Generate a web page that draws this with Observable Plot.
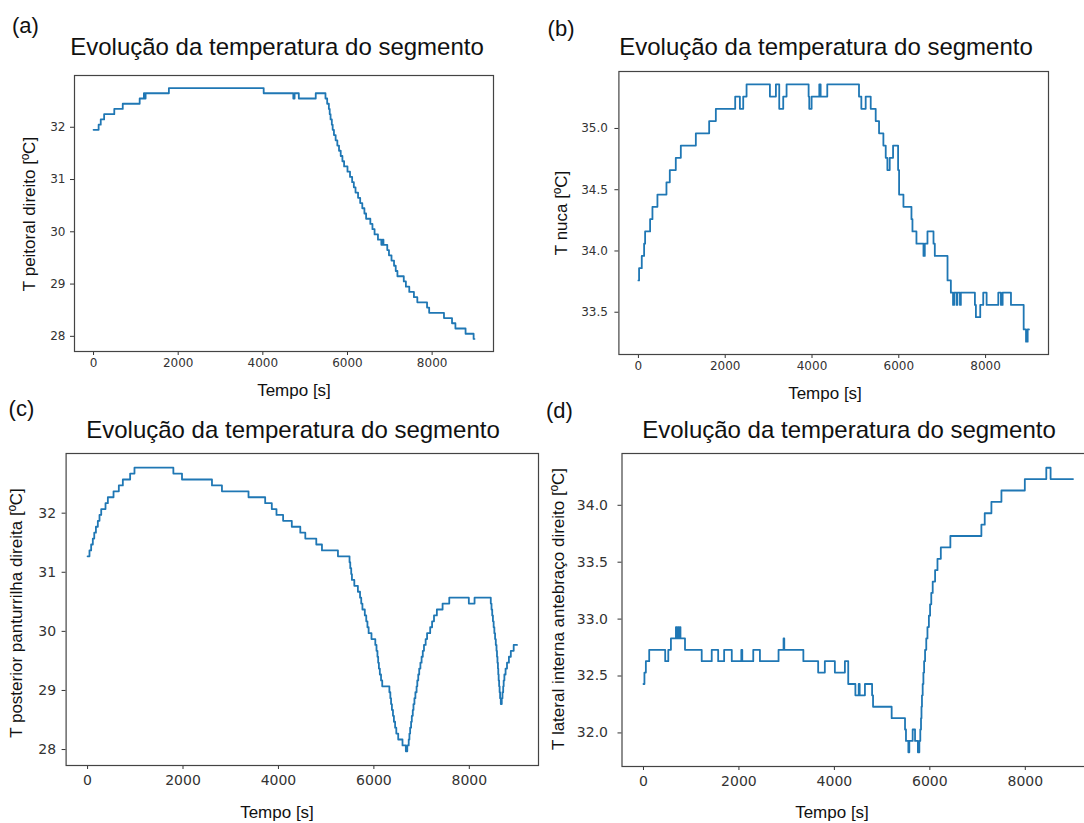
<!DOCTYPE html>
<html><head><meta charset="utf-8">
<script src="https://cdn.jsdelivr.net/npm/d3@7"></script>
<script src="https://cdn.jsdelivr.net/npm/@observablehq/plot@0.6"></script>
<style>
html,body{margin:0;padding:0;background:#fff;}
body{width:1084px;height:823px;overflow:hidden;position:relative;font-family:"Liberation Sans",Arial,sans-serif;color:#111;}
.abs{position:absolute;white-space:nowrap;line-height:1;}
.tag{font-size:22px;}
.title{font-size:24px;transform:translateX(-50%);}
.xl{font-size:17px;transform:translateX(-50%);}
.yl{font-size:17px;transform:translate(-50%,-50%) rotate(-90deg);}
</style></head><body>
<script>
// ---------------- DATA ----------------
const titleText = "Evolução da temperatura do segmento";
const panelTags = ["(a)", "(b)", "(c)", "(d)"];
const xLabel = "Tempo [s]";
const yLabels = ["T peitoral direito [ºC]", "T nuca [ºC]", "T posterior panturrilha direita [ºC]", "T lateral interna antebraço direito [ºC]"];
const xTicks = [0, 2000, 4000, 6000, 8000];
const yTicksA = [28, 29, 30, 31, 32];
const yTicksB = [33.5, 34.0, 34.5, 35.0];
const yTicksC = [28, 29, 30, 31, 32];
const yTicksD = [32.0, 32.5, 33.0, 33.5, 34.0];

// (a) peitoral direito
const tempoA = [0,120,170,250,490,690,1090,1190,1210,1230,1780,4020,4720,4750,4850,5250,5480,5520,5560,5580,5600,5630,5650,5680,5720,5760,5800,5840,5880,5920,6000,6060,6110,6150,6190,6250,6300,6350,6400,6440,6540,6590,6640,6720,6800,6830,6850,6940,6980,7040,7100,7140,7180,7330,7380,7460,7570,7650,7880,7930,8280,8470,8550,8790,8980,9000];
const tempA  = [31.95,32.05,32.15,32.25,32.35,32.45,32.55,32.65,32.55,32.65,32.75,32.65,32.55,32.65,32.55,32.65,32.55,32.45,32.35,32.25,32.15,32.05,31.95,31.85,31.75,31.65,31.55,31.45,31.35,31.25,31.15,31.05,30.95,30.85,30.75,30.65,30.55,30.45,30.35,30.25,30.15,30.05,29.95,29.85,29.75,29.85,29.75,29.65,29.55,29.45,29.35,29.25,29.15,29.05,28.95,28.85,28.75,28.65,28.55,28.45,28.35,28.25,28.15,28.05,27.95,27.95];

// (b) nuca
const tempoB = [0,15,77,131,154,269,323,438,646,723,861,977,1323,1630,1784,2230,2338,2415,2492,3030,3168,3245,3337,3414,3922,3937,3991,4168,4199,4352,5083,5137,5237,5353,5468,5545,5645,5699,5737,5791,5868,5984,6007,6107,6292,6315,6407,6569,6599,6661,6800,6830,7123,7200,7250,7275,7330,7350,7410,7430,7754,7777,7877,7946,8024,8293,8354,8393,8585,8878,8932,8970,9000];
const tempB  = [33.76,33.86,33.96,34.06,34.16,34.26,34.36,34.46,34.56,34.66,34.76,34.86,34.96,35.06,35.16,35.26,35.16,35.26,35.36,35.26,35.36,35.16,35.26,35.36,35.26,35.16,35.26,35.36,35.26,35.36,35.26,35.16,35.26,35.16,35.06,34.96,34.86,34.76,34.66,34.76,34.86,34.66,34.46,34.36,34.26,34.16,34.06,33.96,34.06,34.16,34.06,33.96,33.76,33.66,33.56,33.66,33.56,33.66,33.56,33.66,33.56,33.46,33.56,33.66,33.56,33.66,33.56,33.66,33.56,33.36,33.26,33.36,33.36];

// (c) posterior panturrilha direita
const tempoC = [0,40,75,110,140,175,215,250,286,376,425,544,655,739,892,983,1798,1979,2607,2816,3373,3722,3861,3959,4098,4280,4458,4563,4793,4912,5247,5490,5505,5525,5540,5590,5665,5710,5735,5760,5810,5840,5865,5890,5950,6030,6055,6075,6090,6105,6125,6150,6175,6325,6345,6360,6378,6400,6420,6445,6470,6510,6600,6670,6700,6730,6745,6760,6780,6795,6815,6830,6850,6870,6895,6910,6930,6950,6975,7000,7025,7050,7085,7115,7180,7220,7260,7320,7440,7580,7990,8110,8450,8465,8480,8495,8510,8525,8540,8555,8570,8580,8590,8600,8607,8615,8625,8635,8645,8660,8680,8695,8710,8720,8735,8760,8790,8830,8870,8930,9000];
const tempC  = [31.27,31.37,31.47,31.57,31.67,31.77,31.87,31.97,32.07,32.17,32.27,32.37,32.47,32.57,32.67,32.77,32.67,32.57,32.47,32.37,32.27,32.17,32.07,31.97,31.87,31.77,31.67,31.57,31.47,31.37,31.27,31.17,31.07,30.97,30.87,30.77,30.67,30.57,30.47,30.37,30.27,30.17,30.07,29.97,29.87,29.77,29.67,29.57,29.47,29.37,29.27,29.17,29.07,28.97,28.87,28.77,28.67,28.57,28.47,28.37,28.27,28.17,28.07,27.97,28.07,28.17,28.27,28.37,28.47,28.57,28.67,28.77,28.87,28.97,29.07,29.17,29.27,29.37,29.47,29.57,29.67,29.77,29.87,29.97,30.07,30.17,30.27,30.37,30.47,30.57,30.47,30.57,30.47,30.37,30.27,30.17,30.07,29.97,29.87,29.77,29.67,29.57,29.47,29.37,29.27,29.17,29.07,28.97,28.87,28.77,28.87,28.97,29.07,29.17,29.27,29.37,29.47,29.57,29.67,29.77,29.77];

// (d) lateral interna antebraço direito
const tempoD = [0,20,50,120,455,520,575,680,700,720,740,760,775,870,1220,1430,1565,1690,1850,2050,2070,2300,2440,2830,2935,2950,3350,3660,3800,4010,4220,4290,4440,4510,4530,4640,4790,4810,5200,5480,5500,5550,5570,5640,5690,5750,5780,5800,5815,5825,5835,5850,5865,5880,5900,5925,5950,5980,6005,6030,6060,6110,6160,6230,6430,7080,7150,7290,7500,7990,8440,8530,9000];
const tempD  = [32.43,32.53,32.63,32.73,32.63,32.73,32.83,32.93,32.83,32.93,32.83,32.93,32.83,32.73,32.63,32.73,32.63,32.73,32.63,32.73,32.63,32.73,32.63,32.73,32.83,32.73,32.63,32.53,32.63,32.53,32.63,32.43,32.33,32.43,32.33,32.43,32.33,32.23,32.13,32.03,31.93,31.83,31.93,32.03,31.93,31.83,31.93,32.03,32.13,32.23,32.33,32.43,32.53,32.63,32.73,32.83,32.93,33.03,33.13,33.23,33.33,33.43,33.53,33.63,33.73,33.83,33.93,34.03,34.13,34.23,34.33,34.23,34.23];

// ---------------- LAYOUT ----------------
const panels = [
  {t: tempoA, T: tempA, yTicks: yTicksA, fmt: d3.format("d"), left: 0, top: 60, w: 540, h: 340, ml: 74, mr: 47, mt: 15, mb: 49,
   fs: 12, xpadT: 3, ypadT: 5, tag: [12, 15.4], title: [277, 34.7], xl: [294, 382], yl: [28.6, 214]},
  {t: tempoB, T: tempB, yTicks: yTicksB, fmt: d3.format(".1f"), left: 540, top: 60, w: 544, h: 340, ml: 78.4, mr: 36, mt: 11, mb: 46,
   fs: 12, xpadT: 3, ypadT: 7, tag: [547.6, 18.4], title: [826, 34.7], xl: [825, 384.6], yl: [560.8, 213.3]},
  {t: tempoC, T: tempC, yTicks: yTicksC, fmt: d3.format("d"), left: 0, top: 440, w: 540, h: 383, ml: 65.6, mr: 2, mt: 13, mb: 58,
   fs: 14, xpadT: 6, ypadT: 6, tag: [8.6, 398.4], title: [293, 417.7], xl: [277, 803.6], yl: [16.4, 613.3]},
  {t: tempoD, T: tempD, yTicks: yTicksD, fmt: d3.format(".1f"), left: 540, top: 440, w: 560, h: 383, ml: 81.5, mr: 6, mt: 13, mb: 57,
   fs: 14, xpadT: 6, ypadT: 10, tag: [546, 400], title: [849, 417.7], xl: [832, 803.6], yl: [558.2, 609.2]}
];

function addText(cls, text, x, y) {
  const d = document.createElement("div");
  d.className = "abs " + cls;
  d.textContent = text;
  d.style.left = x + "px";
  d.style.top = y + "px";
  document.body.appendChild(d);
}

panels.forEach((p, i) => {
  const data = p.t.map((t, k) => ({t, T: p.T[k]}));
  const [x0, x1] = d3.extent(p.t);
  const xpad = (x1 - x0) * 0.05;
  const [lo, hi] = d3.extent(p.T);
  const pad = (hi - lo) * 0.05;
  const chart = Plot.plot({
    width: p.w, height: p.h,
    marginLeft: p.ml, marginRight: p.mr, marginTop: p.mt, marginBottom: p.mb,
    style: {fontFamily: "DejaVu Sans", fontSize: p.fs + "px", color: "#333", background: "transparent", overflow: "visible"},
    x: {domain: [x0 - xpad, x1 + xpad], ticks: xTicks, tickFormat: d => String(d), tickSize: 4, tickPadding: p.xpadT, label: null},
    y: {domain: [lo - pad, hi + pad], ticks: p.yTicks, tickFormat: p.fmt, tickSize: 4, tickPadding: p.ypadT, label: null},
    marks: [
      Plot.line(data, {x: "t", y: "T", curve: "step-after", stroke: "#1f77b4", strokeWidth: 1.8}),
      Plot.frame({stroke: "#444", strokeWidth: 1.2})
    ]
  });
  chart.style.position = "absolute";
  chart.style.left = p.left + "px";
  chart.style.top = p.top + "px";
  document.body.appendChild(chart);
  addText("tag", panelTags[i], p.tag[0], p.tag[1]);
  addText("title", titleText, p.title[0], p.title[1]);
  addText("xl", xLabel, p.xl[0], p.xl[1]);
  addText("yl", yLabels[i], p.yl[0], p.yl[1]);
});
</script>
</body></html>
